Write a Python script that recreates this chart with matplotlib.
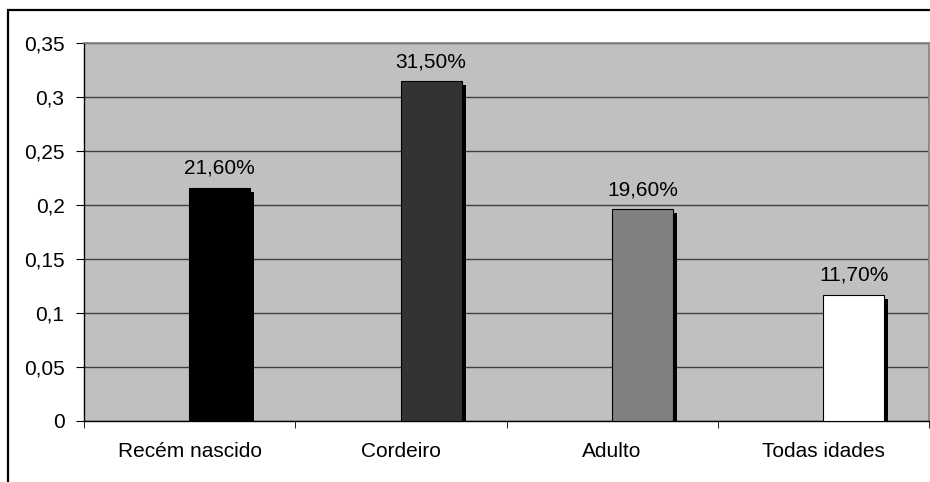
import matplotlib
matplotlib.use("Agg")
import matplotlib.pyplot as plt
import matplotlib.transforms as mtransforms
from matplotlib.patches import Rectangle

# dados
categorias = ["Recém nascido", "Cordeiro", "Adulto", "Todas idades"]
valores = [0.216, 0.315, 0.196, 0.117]
rotulos = ["21,60%", "31,50%", "19,60%", "11,70%"]
cores = ["#000000", "#333333", "#808080", "#ffffff"]
yticks = [0, 0.05, 0.1, 0.15, 0.2, 0.25, 0.3, 0.35]
ytick_labels = ["0", "0,05", "0,1", "0,15", "0,2", "0,25", "0,3", "0,35"]

plt.rcParams["font.family"] = ["Liberation Sans", "DejaVu Sans"]
FS = 15

fig = plt.figure(figsize=(9.3, 4.82), dpi=100)
ax = fig.add_axes([84 / 930, 1 - 421 / 482, 845 / 930, 378 / 482])
ax.set_facecolor("#c0c0c0")

# borda externa (cortada a direita e embaixo)
fig.patches.append(Rectangle((8 / 930, -0.05), 1.2, 1 - 10 / 482 + 0.05,
                             transform=fig.transFigure, fill=False,
                             edgecolor="black", linewidth=1.6, zorder=0))

x = [i + 0.5 for i in range(len(categorias))]
pos = [xi + 0.143 for xi in x]
largura = 0.288

# sombra
sombra = ax.transData + mtransforms.ScaledTranslation(4 / 100, -4 / 100, fig.dpi_scale_trans)
ax.bar(pos, valores, width=largura, color="black", transform=sombra, zorder=2)
ax.bar(pos, valores, width=largura, color=cores, edgecolor="black",
       linewidth=0.8, zorder=3)

for p, v, r in zip(pos, valores, rotulos):
    ax.annotate(r, (p, v), xytext=(0, 7), textcoords="offset points",
                ha="center", va="bottom", fontsize=FS)

ax.set_xlim(0, 4)
ax.set_ylim(0, 0.35)
ax.set_yticks(yticks)
ax.set_yticklabels(ytick_labels, fontsize=FS)
ax.yaxis.grid(True, color="#404040", linewidth=1)
ax.set_axisbelow(True)

ax.set_xticks(x)
ax.set_xticklabels(categorias, fontsize=FS)
ax.set_xticks([0, 1, 2, 3, 4], minor=True)
ax.tick_params(axis="x", which="major", length=0, pad=15)
ax.tick_params(axis="x", which="minor", length=5, direction="out", color="black")
ax.tick_params(axis="y", length=6, direction="out", color="black", pad=8)

for s in ["left", "bottom"]:
    ax.spines[s].set_color("black")
    ax.spines[s].set_linewidth(1)
for s in ["top", "right"]:
    ax.spines[s].set_color("#808080")
    ax.spines[s].set_linewidth(1.2)

fig.savefig("out.png", dpi=100)
